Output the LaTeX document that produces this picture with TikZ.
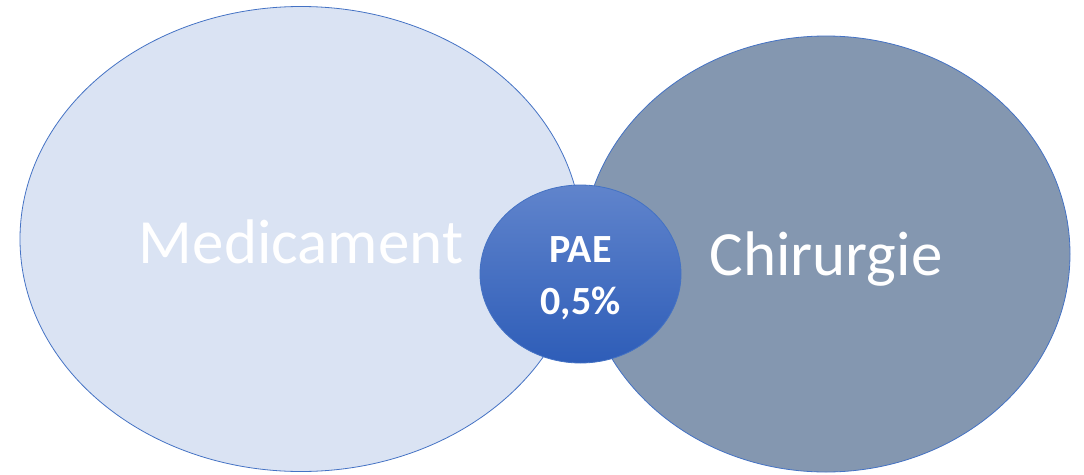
\documentclass[tikz,border=0pt]{standalone}
\usepackage{fontspec}
\setmainfont{Carlito}
\usetikzlibrary{shapes.geometric}
\definecolor{medfill}{HTML}{DAE3F3}
\definecolor{chirfill}{HTML}{8497B0}
\definecolor{rim}{HTML}{4472C4}
\definecolor{paetop}{HTML}{6084CC}
\definecolor{paebot}{HTML}{2E5DB8}
\tikzset{
	blob/.style={ellipse, draw=rim, line width=0.8pt, inner sep=0pt},
	lbl/.style={text=white, inner sep=0pt, align=center},
}

\begin{document}
\begin{tikzpicture}[x=1pt, y=-1pt]
		%%%%% START %%%%%
		\useasboundingbox (0, 0) rectangle (1084, 474);
		
		\node[blob, fill=medfill, minimum width=562, minimum height=465] (med) at (301, 239) {};
		\node[blob, fill=chirfill, minimum width=488, minimum height=436] (chir) at (826, 254) {};
		\node[blob, top color=paetop, bottom color=paebot, minimum width=201, minimum height=178] (pae) at (580.5, 274) {};
		
		\node[lbl, font=\fontsize{63}{63}\selectfont] (medtxt) at ([yshift=-3pt]med.center) {Medicament};
		\node[lbl, font=\fontsize{63}{63}\selectfont] (chirtxt) at ([yshift=-5pt]chir.center) {Chirurgie};
		\node[lbl, font=\fontsize{40}{52}\selectfont\bfseries] (paetxt) at ([yshift=-4pt]pae.center) {PAE\\0,5\%};
		
		%%%%% END %%%%%
	\end{tikzpicture}
\end{document}
